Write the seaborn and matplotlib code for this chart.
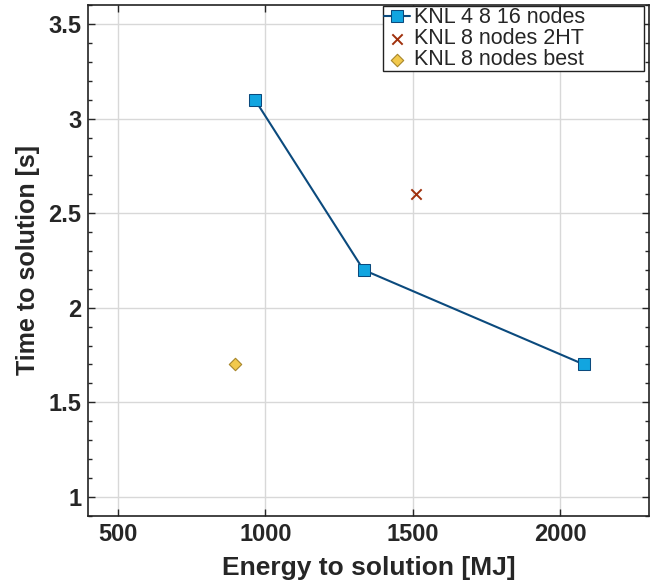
import matplotlib
matplotlib.use("Agg")
import matplotlib.pyplot as plt
import seaborn as sns
import pandas as pd
from matplotlib.ticker import MultipleLocator

# data
energy_knl = [965, 1333, 2080]
time_knl = [3.1, 2.2, 1.7]
energy_2ht = [1510]
time_2ht = [2.6]
energy_best = [897]
time_best = [1.7]

sns.set_theme(style="whitegrid")
plt.rcParams["font.family"] = ["Liberation Sans", "DejaVu Sans"]

fig = plt.figure(figsize=(6.54, 5.84), dpi=100)
ax = fig.add_axes([0.135, 0.117, 0.857, 0.874])

df_knl = pd.DataFrame({"energy": energy_knl, "time": time_knl})
sns.lineplot(data=df_knl, x="energy", y="time", ax=ax, color="#0b4a7d",
             marker="s", markersize=9, markerfacecolor="#12a5e0",
             markeredgecolor="#0b4a7d", linewidth=1.5, label="KNL 4 8 16 nodes")
sns.scatterplot(x=energy_2ht, y=time_2ht, ax=ax, marker="x", s=55,
                color="#a0300c", linewidth=1.4, label="KNL 8 nodes 2HT")
sns.scatterplot(x=energy_best, y=time_best, ax=ax, marker="D", s=40,
                color="#f2c94c", edgecolor="#a8862a", linewidth=0.8,
                label="KNL 8 nodes best")

ax.set_xlim(400, 2300)
ax.set_ylim(0.9, 3.6)
ax.set_xticks([500, 1000, 1500, 2000])
ax.set_yticks([1, 1.5, 2, 2.5, 3, 3.5])
ax.set_yticklabels(["1", "1.5", "2", "2.5", "3", "3.5"])
ax.yaxis.set_minor_locator(MultipleLocator(0.1))
ax.tick_params(axis="both", which="major", labelsize=17, length=5, pad=5,
               direction="in", width=1, top=True, right=True, bottom=True, left=True,
               labelcolor="#262626")
ax.tick_params(axis="y", which="minor", length=3, direction="in", left=True, right=True)
for lab in ax.get_xticklabels() + ax.get_yticklabels():
    lab.set_fontweight("bold")

ax.grid(True, which="major", color="#d8d8d8", linewidth=1)
ax.set_facecolor("white")
for s in ax.spines.values():
    s.set_color("#222222")
    s.set_linewidth(1.2)

ax.set_xlabel("Energy to solution [MJ]", fontsize=19, fontweight="bold",
              color="#262626", labelpad=7.5)
ax.set_ylabel("Time to solution [s]", fontsize=18, fontweight="bold",
              color="#262626", labelpad=6)

leg = ax.legend(loc="upper left", bbox_to_anchor=(0.526, 0.0, 0.465, 0.998),
                mode="expand", fontsize=15.5, frameon=True, fancybox=False,
                edgecolor="#222222", framealpha=1, borderpad=0.05,
                labelspacing=0.0, handlelength=1.2, handletextpad=0.2,
                borderaxespad=0.0)
leg.get_frame().set_linewidth(1)

fig.savefig("out.png", dpi=100)
